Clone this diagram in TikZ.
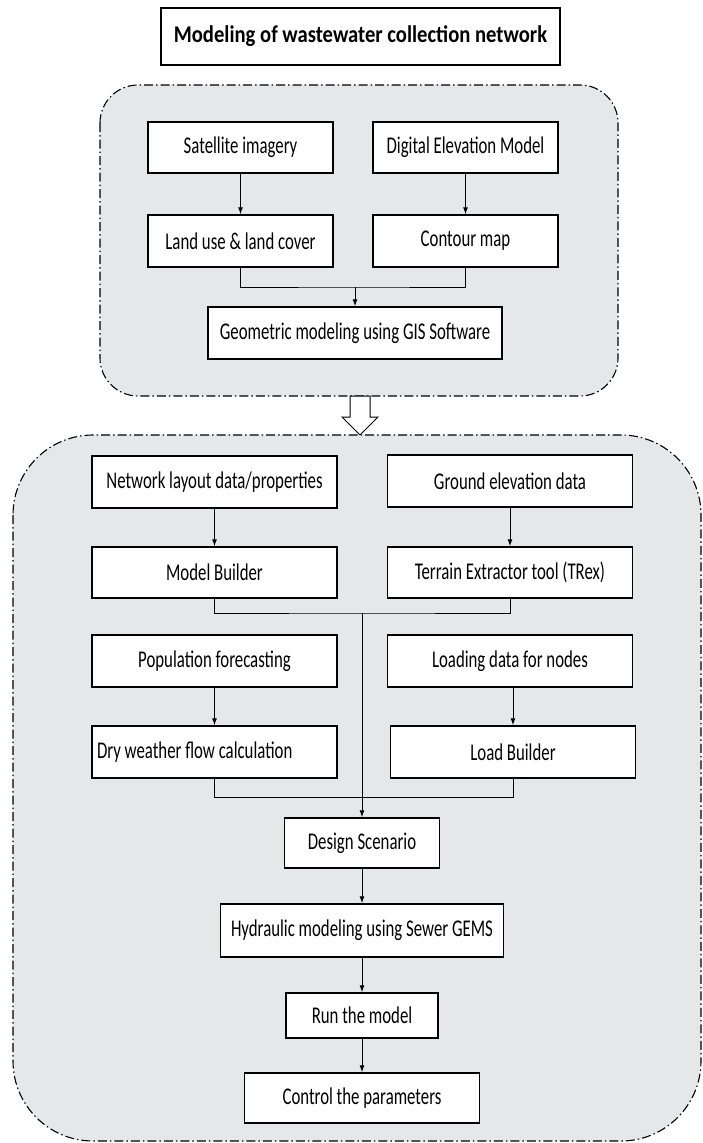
\documentclass[tikz,border=0pt]{standalone}
\usepackage{fontspec}
\setmainfont{Carlito}[FakeStretch=0.70]
\newfontfamily\titlefont{Carlito}[FakeStretch=0.86]
\usetikzlibrary{arrows.meta}
\definecolor{panelgray}{RGB}{230,231,233}

\begin{document}
\begin{tikzpicture}[x=1pt,y=-1pt,
		box/.style={draw,line width=1.4pt,fill=white,minimum height=52pt,inner sep=2pt,font=\fontsize{24}{28}\selectfont},
		link/.style={line width=1pt},
		arr/.style={link,-{Latex[length=7pt,width=5pt]}},
		panel/.style={draw,line width=1.1pt,fill=panelgray,dash pattern=on 9pt off 3pt on 1.5pt off 3pt}]
				%%%%% START %%%%%
				\def\wa{185pt}
				\def\wb{245pt}
				\def\xa{240.5}
				\def\xb{465.5}
				\def\xl{214.5}
				\def\xr{510}
				\def\xm{362}

				\useasboundingbox (0,0) rectangle (703,1143);

				\node[box,font=\fontsize{24}{28}\titlefont\bfseries,minimum width=399pt,minimum height=57pt] (title) at (360.5,36.5) {Modeling of wastewater collection network};

				% GIS part
				\draw[panel,rounded corners=38pt] (100,85) rectangle (618,396);

				\node[box,minimum width=\wa,minimum height=51pt] (sat) at (\xa,147.5) {Satellite imagery};
				\node[box,minimum width=\wa,minimum height=51pt] (dem) at (\xb,147.5) {Digital Elevation Model};
				\node[box,minimum width=\wa] (lulc) at (\xa,241) {Land use \& land cover};
				\node[box,minimum width=\wa] (cont) at (\xb,241) {Contour map};
				\node[box,minimum width=294pt] (geo) at (355,333) {Geometric modeling using GIS Software};

				\coordinate (jgeo) at (355,287);
				\draw[arr] (sat) -- (lulc);
				\draw[arr] (dem) -- (cont);
				\draw[link] (lulc.south) |- (jgeo) -| (cont.south);
				\draw[arr] (jgeo) -- (geo.north);

				% hollow arrow
				\draw[line width=1pt,fill=white] (350,396) -- (370,396) -- (370,417) -- (378,417) -- (360,435) -- (342,417) -- (350,417) -- cycle;

				% SewerGEMS part
				\draw[panel,rounded corners=80pt] (13,435) rectangle (701,1141);

				\node[box,minimum width=\wb] (net) at (\xl,482) {Network layout data/properties};
				\node[box,minimum width=\wb] (gnd) at (\xr,481) {Ground elevation data};
				\node[box,minimum width=\wb,minimum height=51pt] (mb) at (\xl,572.5) {Model Builder};
				\node[box,minimum width=\wb,minimum height=51pt] (trex) at (\xr,572.5) {Terrain Extractor tool (TRex)};
				\node[box,minimum width=\wb] (pop) at (\xl,661) {Population forecasting};
				\node[box,minimum width=\wb] (load) at (\xr,661) {Loading data for nodes};
				\node[box,text width=235pt,align=flush left,inner xsep=5pt] (dwf) at (\xl,752) {Dry weather flow calculation};
				\node[box,minimum width=\wb] (lb) at (513,752) {Load Builder};
				\node[box,minimum width=155pt,minimum height=50pt] (scen) at (\xm,843) {Design Scenario};
				\node[box,minimum width=283pt,minimum height=53pt] (hyd) at (\xm,930.5) {Hydraulic modeling using Sewer GEMS};
				\node[box,minimum width=152pt,minimum height=45pt] (run) at (\xm,1015.5) {Run the model};
				\node[box,minimum width=235pt,minimum height=50pt] (ctrl) at (\xm,1098) {Control the parameters};

				\coordinate (jtop) at (\xm,613);
				\coordinate (jbot) at (\xm,797);
				\draw[arr] (net) -- (mb);
				\draw[arr] (gnd) -- (trex);
				\draw[arr] (pop.south -| dwf.north) -- (dwf);
				\draw[arr] (load.south -| lb.north) -- (lb);
				\draw[link] (mb.south) |- (jtop) -| (trex.south);
				\draw[link] (dwf.south) |- (jbot) -| (lb.south);
				\draw[arr] (jtop) -- (scen.north);
				\draw[arr] (scen) -- (hyd);
				\draw[arr] (hyd) -- (run);
				\draw[arr] (run) -- (ctrl);
				%%%%% START %%%%%
			\end{tikzpicture}
\end{document}
